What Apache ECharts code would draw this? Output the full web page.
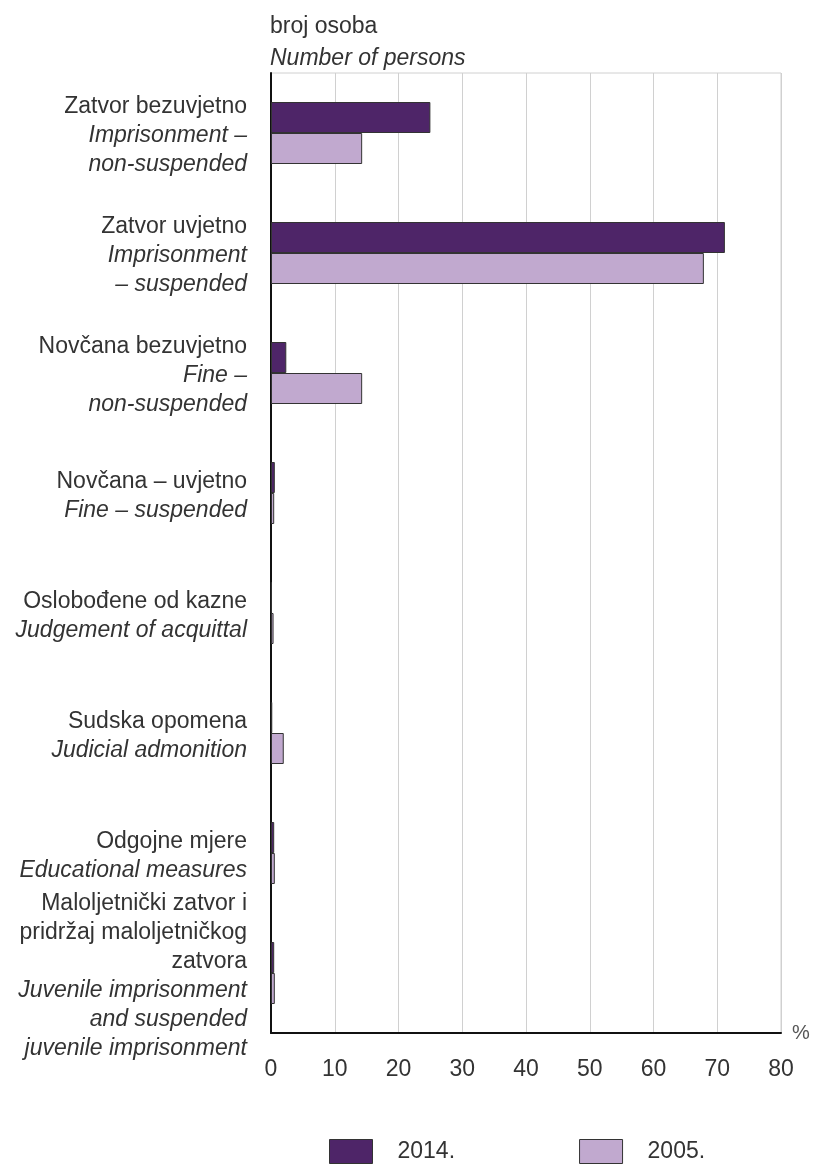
<!DOCTYPE html>
<html lang="hr" style="height: 100%">
<head>
  <meta charset="utf-8">
</head>
<body style="height: 100%; margin: 0; background: #fff">
  <div id="container" style="width: 815px; height: 1166px"></div>

  <script src="https://cdn.jsdelivr.net/npm/echarts@6/dist/echarts.min.js"></script>

  <script type="text/javascript">
    var dom = document.getElementById('container');
    var myChart = echarts.init(dom, null, { renderer: 'canvas' });
    var option;

    // category labels: Croatian lines (regular) + English lines (italic)
    const labelsHr = [
      ['Zatvor bezuvjetno'],
      ['Zatvor uvjetno'],
      ['Novčana bezuvjetno'],
      ['Novčana – uvjetno'],
      ['Oslobođene od kazne'],
      ['Sudska opomena'],
      ['Odgojne mjere'],
      ['Maloljetnički zatvor i', 'pridržaj maloljetničkog', 'zatvora']
    ];
    const labelsEn = [
      ['Imprisonment –', 'non-suspended'],
      ['Imprisonment', '– suspended'],
      ['Fine –', 'non-suspended'],
      ['Fine – suspended'],
      ['Judgement of acquittal'],
      ['Judicial admonition'],
      ['Educational measures'],
      ['Juvenile imprisonment', 'and suspended', 'juvenile imprisonment']
    ];
    const years = ['2014.', '2005.'];
    const values2014 = [25, 71.2, 2.4, 0.6, 0.1, 0.2, 0.5, 0.5];
    const values2005 = [14.3, 67.9, 14.3, 0.5, 0.4, 2.0, 0.6, 0.6];
    const xTicks = { min: 0, max: 80, interval: 10 };

    const categories = labelsHr.map(function (hr, i) {
      return hr.map(function (s) { return '{hr|' + s + '}'; })
        .concat(labelsEn[i].map(function (s) { return '{en|' + s + '}'; }))
        .join('\n');
    });

    const font = '"Liberation Sans", Arial, sans-serif';

    option = {
      backgroundColor: '#fff',
      animation: false,
      title: {
        left: 270,
        top: 14,
        padding: 0,
        itemGap: 6,
        text: 'broj osoba',
        subtext: 'Number of persons',
        textStyle: { fontFamily: font, fontSize: 23, fontWeight: 'normal', color: '#333', lineHeight: 26 },
        subtextStyle: { fontFamily: font, fontSize: 23, fontStyle: 'italic', color: '#333', lineHeight: 26 }
      },
      legend: {
        data: years,
        left: 329,
        top: 1139,
        padding: 0,
        itemWidth: 43,
        itemHeight: 24,
        itemGap: 124,
        icon: 'rect',
        itemStyle: { borderColor: '#333', borderWidth: 1 },
        textStyle: { fontFamily: font, fontSize: 23, color: '#333', padding: [0, 0, 0, 20] }
      },
      grid: {
        left: 271,
        right: 34,
        top: 73,
        bottom: 133,
        show: true,
        borderColor: '#d0d0d0',
        borderWidth: 1
      },
      xAxis: {
        type: 'value',
        min: xTicks.min,
        max: xTicks.max,
        interval: xTicks.interval,
        name: '%',
        nameLocation: 'end',
        nameGap: 11,
        nameTextStyle: { fontFamily: font, fontSize: 20, color: '#555', padding: [0, 0, 18, 0] },
        axisLine: { show: true, lineStyle: { color: '#111', width: 2 } },
        axisTick: { show: false },
        axisLabel: { fontFamily: font, fontSize: 23, color: '#333', margin: 25 },
        splitLine: { show: true, lineStyle: { color: '#d0d0d0', width: 1 } }
      },
      yAxis: {
        type: 'category',
        inverse: true,
        data: categories,
        axisLine: { show: true, lineStyle: { color: '#111', width: 2 } },
        axisTick: { show: false },
        splitLine: { show: false },
        axisLabel: {
          margin: 24,
          align: 'right',
          interval: 0,
          padding: [6, 0, 0, 0],
          rich: {
            hr: { fontFamily: font, fontSize: 23, color: '#333', lineHeight: 29, align: 'right' },
            en: { fontFamily: font, fontSize: 23, color: '#333', fontStyle: 'italic', lineHeight: 29, align: 'right' }
          }
        }
      },
      series: [
        {
          name: years[0],
          type: 'bar',
          data: values2014,
          barWidth: 31,
          barGap: '0%',
          itemStyle: { color: '#4e2568', borderColor: '#333', borderWidth: 1 }
        },
        {
          name: years[1],
          type: 'bar',
          data: values2005,
          barWidth: 31,
          barGap: '0%',
          itemStyle: { color: '#c1a9cf', borderColor: '#333', borderWidth: 1 }
        }
      ]
    };

    if (option && typeof option === 'object') {
      myChart.setOption(option);
    }

    window.addEventListener('resize', myChart.resize);
  </script>
</body>
</html>
